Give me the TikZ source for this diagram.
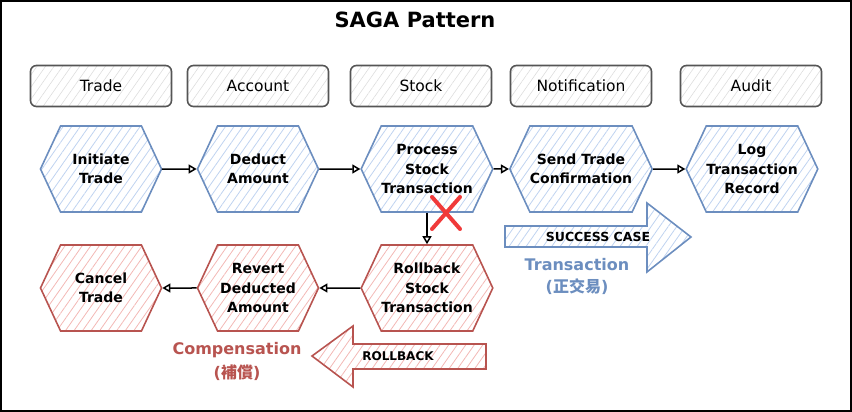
\documentclass[tikz,border=0pt]{standalone}
\usepackage{fontspec}
\setmainfont{DejaVu Sans}
\newfontfamily\cjk{Noto Sans CJK TC}
\usetikzlibrary{shapes.symbols,shapes.misc,arrows.meta,patterns.meta}
\definecolor{txblue}{HTML}{6C8EBF}
\definecolor{bluehatch}{HTML}{BFD3F0}
\definecolor{cpred}{HTML}{B85450}
\definecolor{redhatch}{HTML}{F3B8B5}
\definecolor{lanegray}{HTML}{555555}
\definecolor{lanehatch}{HTML}{DDDDDD}
\definecolor{failred}{HTML}{F03A3A}
\begin{document}
\begin{tikzpicture}[x=1pt,y=-1pt,
	lane/.style={draw=lanegray, line width=1.6pt, rounded corners=6pt, minimum width=141pt, minimum height=41pt, pattern={Lines[angle=55,distance=7pt,line width=0.6pt]}, pattern color=lanehatch, font=\fontsize{15.5}{18}\selectfont},
	okstep/.style={signal, signal to=east and west, signal pointer angle=130, draw=txblue, line width=1.6pt, minimum width=121pt, minimum height=86pt, inner sep=0pt, align=center, pattern={Lines[angle=55,distance=7pt,line width=0.8pt]}, pattern color=bluehatch, font=\bfseries\fontsize{14}{19.5}\selectfont},
	undostep/.style={okstep, draw=cpred, pattern color=redhatch},
	flow/.style={-{Triangle[open,length=8pt,width=9pt]}, line width=1.5pt}
	]
		\useasboundingbox (0,0) rectangle (852,412);
		\draw[line width=2pt] (1,1) rectangle (851,411);
		
		\node(title) at (415,20)[font=\bfseries\fontsize{21}{24}\selectfont]{SAGA Pattern};
		
		\node(trade) at (101,86)[lane]{Trade};
		\node(account) at (258,86)[lane]{Account};
		\node(stock) at (421,86)[lane]{Stock};
		\node(notify) at (581,86)[lane]{Notification};
		\node(audit) at (751,86)[lane]{Audit};
		
		\node(init) at (101,169)[okstep]{Initiate\\Trade};
		\node(deduct) at (258,169)[okstep]{Deduct\\Amount};
		\node(process) at (427,169)[okstep]{Process\\Stock\\Transaction};
		\node(send) at (581,169)[okstep]{Send Trade\\Confirmation};
		\node(log) at (752,169)[okstep]{Log\\Transaction\\Record};
		
		\node(cancel) at (101,288)[undostep]{Cancel\\Trade};
		\node(revert) at (258,288)[undostep]{Revert\\Deducted\\Amount};
		\node(rollback) at (427,288)[undostep]{Rollback\\Stock\\Transaction};
		
			\draw[flow] (init) -- (deduct);
			\draw[flow] (deduct) -- (process);
			\draw[flow] (process) -- (send);
			\draw[flow] (send) -- (log);
			\draw[flow] (process.south) -- (rollback.north);
			\draw[flow] (rollback) -- (revert);
			\draw[flow] (revert) -- (cancel);
		
		\node(fail) at (446,213)[cross out, draw=failred, line width=4pt, line cap=round, minimum width=24pt, minimum height=28pt, inner sep=0pt]{};
		
		\draw[draw=txblue, line width=1.6pt, pattern={Lines[angle=55,distance=7pt,line width=0.8pt]}, pattern color=bluehatch] (505,226) -- (647,226) -- (647,203) -- (691,237) -- (647,272) -- (647,247) -- (505,247) -- cycle;
		\node(success) at (598,237)[font=\bfseries\fontsize{12.5}{15}\selectfont]{SUCCESS CASE};
		\node(txlabel) at (577,276)[text=txblue, align=center, font=\bfseries\fontsize{16}{22}\selectfont]{Transaction\\({\cjk 正交易})};
		
		\draw[draw=cpred, line width=1.6pt, pattern={Lines[angle=55,distance=7pt,line width=0.8pt]}, pattern color=redhatch] (486,344) -- (353,344) -- (353,326) -- (312,356) -- (353,387) -- (353,369) -- (486,369) -- cycle;
		\node(undo) at (398,356)[font=\bfseries\fontsize{12}{15}\selectfont]{ROLLBACK};
		\node(cplabel) at (237,361)[text=cpred, align=center, font=\bfseries\fontsize{16}{24}\selectfont]{Compensation\\({\cjk 補償})};
		
	\end{tikzpicture}
\end{document}
